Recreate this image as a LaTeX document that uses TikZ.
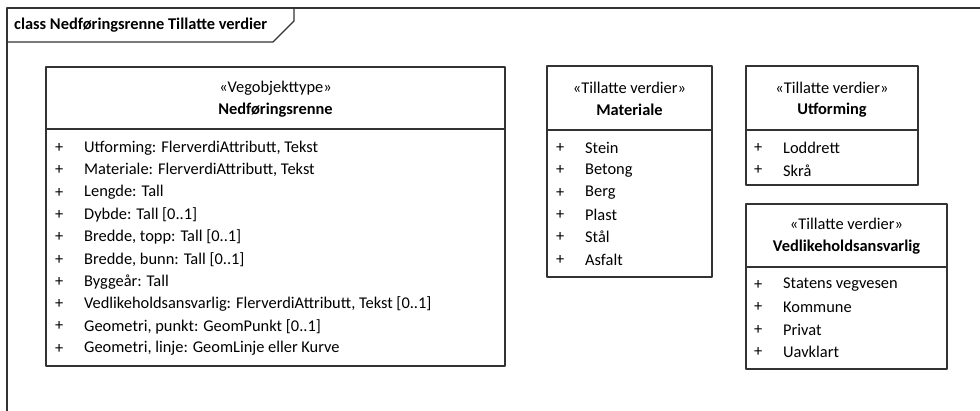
\documentclass[tikz,border=0pt]{standalone}
\usepackage{fontspec}
\setmainfont{Carlito}
\usetikzlibrary{positioning}
\definecolor{umlline}{gray}{0.2}
\tikzset{
  umlbox/.style={draw=umlline, line width=1.4pt, inner sep=0pt, outer sep=0pt},
  stereo/.style={inner sep=0pt, font=\fontsize{16.4}{19}\selectfont},
  classname/.style={inner sep=0pt, font=\bfseries\fontsize{16.4}{19}\selectfont},
  attr/.style={anchor=west, inner sep=0pt, font=\fontsize{16.4}{19}\selectfont},
}
\begin{document}
\begin{tikzpicture}[line cap=round,line join=round,x=1pt,y=-1pt]
    \useasboundingbox (0,0) rectangle (980,410);
    \clip (0,0) rectangle (980,410);
    \draw[umlline,line width=1.4pt] (990,8) -- (7,8) -- (7,420);
    \draw[umlline,line width=1.4pt] (7,42) -- (273,42) -- (294,21) -- (294,8);
    \node [classname,anchor=west] (frametitle) at (14,25) {class Nedføringsrenne Tillatte verdier};

    \node [umlbox,anchor=north west,minimum width=459,minimum height=62] (renneHead) at (46,67) {};
    \node [umlbox,minimum width=459,minimum height=237,below=0pt of renneHead] (renneBody) {};
    \node [stereo] (renneStereo) at (275.5,88) {«Vegobjekttype»};
    \node [classname] (renneName) at (275.5,110) {Nedføringsrenne};
    \foreach \a [count=\i from 0] in {{Utforming: FlerverdiAttributt, Tekst},{Materiale: FlerverdiAttributt, Tekst},{Lengde: Tall},{Dybde: Tall [0..1]},{Bredde, topp: Tall [0..1]},{Bredde, bunn: Tall [0..1]},{Byggeår: Tall},{Vedlikeholdsansvarlig: FlerverdiAttributt, Tekst [0..1]},{Geometri, punkt: GeomPunkt [0..1]},{Geometri, linje: GeomLinje eller Kurve}}
    {
      \node [attr] (renneVis\i) at (55,148+22.3*\i) {+};
      \node [attr] (renneAttr\i) at (84,148+22.3*\i) {\a};
    }

    \node [umlbox,anchor=north west,minimum width=165,minimum height=64] (matHead) at (547,66) {};
    \node [umlbox,minimum width=165,minimum height=147,below=0pt of matHead] (matBody) {};
    \node [stereo] (matStereo) at (629.5,88) {«Tillatte verdier»};
    \node [classname] (matName) at (629.5,110) {Materiale};
    \foreach \a [count=\i from 0] in {Stein,Betong,Berg,Plast,Stål,Asfalt}
    {
      \node [attr] (matVis\i) at (556,148+22.3*\i) {+};
      \node [attr] (matVal\i) at (585,148+22.3*\i) {\a};
    }

    \node [umlbox,anchor=north west,minimum width=172,minimum height=64] (utfHead) at (746,66) {};
    \node [umlbox,minimum width=172,minimum height=55,below=0pt of utfHead] (utfBody) {};
    \node [stereo] (utfStereo) at (832,88) {«Tillatte verdier»};
    \node [classname] (utfName) at (832,110) {Utforming};
    \foreach \a [count=\i from 0] in {Loddrett,Skrå}
    {
      \node [attr] (utfVis\i) at (754,148+22.3*\i) {+};
      \node [attr] (utfVal\i) at (783,148+22.3*\i) {\a};
    }

    \node [umlbox,anchor=north west,minimum width=201,minimum height=63] (vedHead) at (746,204) {};
    \node [umlbox,minimum width=201,minimum height=102,below=0pt of vedHead] (vedBody) {};
    \node [stereo] (vedStereo) at (846.5,224) {«Tillatte verdier»};
    \node [classname] (vedName) at (846.5,247) {Vedlikeholdsansvarlig};
    \foreach \a [count=\i from 0] in {Statens vegvesen,Kommune,Privat,Uavklart}
    {
      \node [attr] (vedVis\i) at (754,285+22.3*\i) {+};
      \node [attr] (vedVal\i) at (783,285+22.3*\i) {\a};
    }
\end{tikzpicture}
\end{document}
